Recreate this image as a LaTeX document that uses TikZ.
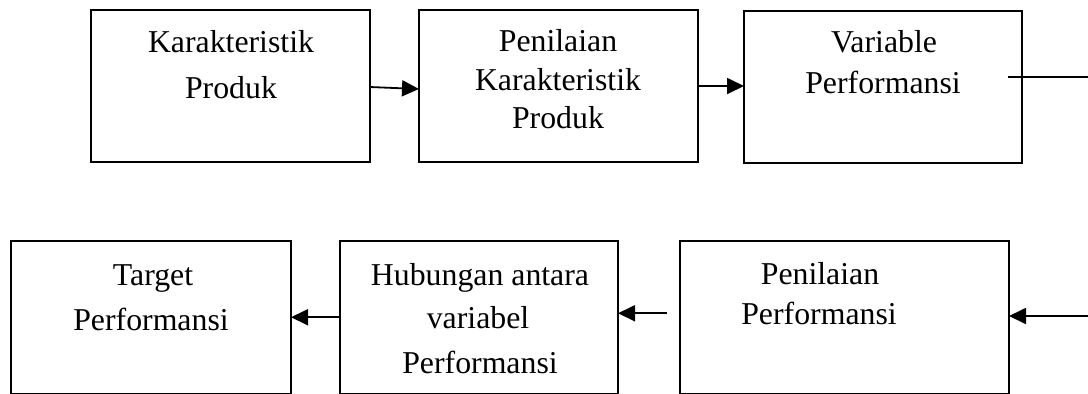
\documentclass[tikz,border=0pt]{standalone}
\usepackage{fontspec}
\setmainfont{Liberation Serif}
\usetikzlibrary{arrows.meta}
\begin{document}
\begin{tikzpicture}[x=0.5pt,y=-0.5pt,
  box/.style={draw, line width=0.9pt, inner sep=0pt, outer sep=0pt, minimum width=#1, minimum height=76pt},
  lowbox/.style={box=#1, minimum height=76.25pt},
  txt/.style={anchor=base, inner sep=0pt, font=\fontsize{15.9}{19}\selectfont},
  conn/.style={line width=0.9pt},
  arr/.style={conn, -{Triangle[length=8.5pt,width=8pt]}}]
\useasboundingbox (0,0) rectangle (1088,393);
% boxes
\node[box=139.5pt] (b1) at (230.5,86) {};
\node[box=139.5pt] (b2) at (558.5,86) {};
\node[box=139pt]   (b3) at (883,87) {};
\node[lowbox=140pt]   (b4) at (151,317.25) {};
\node[lowbox=139pt]   (b5) at (479,317.25) {};
\node[lowbox=164.5pt] (b6) at (844.5,317.25) {};
% texts
\node[txt] (t1a) at (231,52) {Karakteristik};
\node[txt] (t1b) at (231,98) {Produk};
\node[txt] (t2a) at (558,51) {Penilaian};
\node[txt] (t2b) at (558,90) {Karakteristik};
\node[txt] (t2c) at (558,128) {Produk};
\node[txt] (t3a) at (884,52) {Variable};
\node[txt] (t3b) at (883,93) {Performansi};
\node[txt] (t4a) at (153,285) {Target};
\node[txt] (t4b) at (151,330) {Performansi};
\node[txt] (t5a) at (480,285) {Hubungan antara};
\node[txt] (t5b) at (478,328.5) {variabel};
\node[txt] (t5c) at (480,373.6) {Performansi};
\node[txt] (t6a) at (820,284) {Penilaian};
\node[txt] (t6b) at (819,324) {Performansi};
% connectors
\coordinate (e1) at (1088,77);
\coordinate (e2) at (1088,316);
\draw[arr] ([yshift=-0.5pt]b1.east) -- ([yshift=-1.5pt]b2.west);
\draw[arr] (b2.east) -- (b3.west |- b2.east);
\draw[conn] ([xshift=-7pt]b3.east |- e1) -- (e1);
\draw[arr] (e2) -- (b6.east |- e2);
\draw[arr] ([xshift=-6.5pt,yshift=2pt]b6.west) -- ([yshift=2pt]b5.east);
\draw[arr] (b5.west) -- (b4.east);
\end{tikzpicture}
\end{document}
